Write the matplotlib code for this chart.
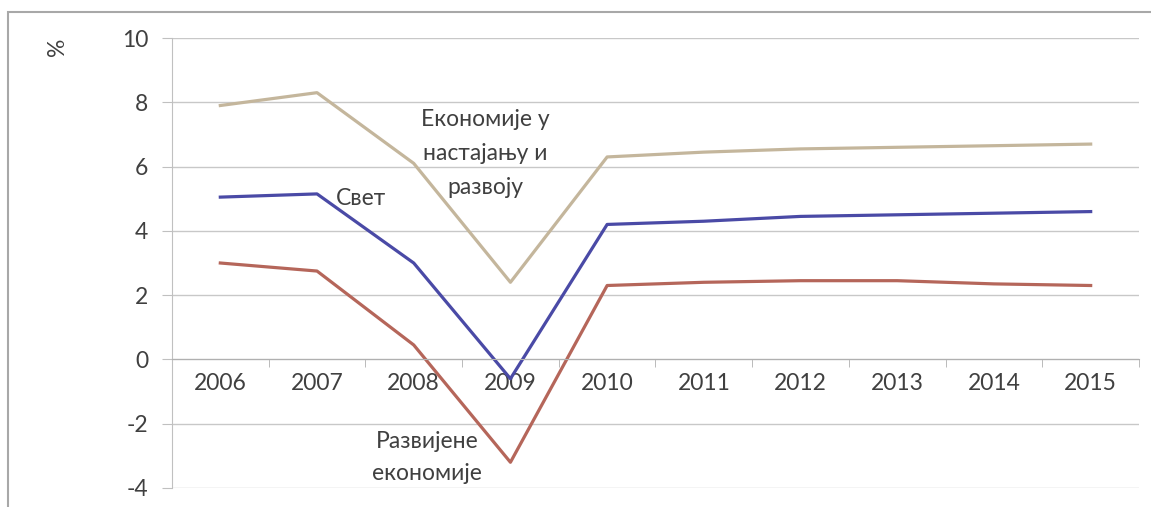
import matplotlib.pyplot as plt
from matplotlib.patches import Rectangle

plt.rcParams['font.family'] = ['Lato', 'DejaVu Sans']
plt.rcParams['axes.unicode_minus'] = False

years = ['2006', '2007', '2008', '2009', '2010', '2011', '2012', '2013', '2014', '2015']
emerging = [7.9, 8.3, 6.1, 2.4, 6.3, 6.45, 6.55, 6.6, 6.65, 6.7]
world = [5.05, 5.15, 3.0, -0.6, 4.2, 4.3, 4.45, 4.5, 4.55, 4.6]
advanced = [3.0, 2.75, 0.45, -3.2, 2.3, 2.4, 2.45, 2.45, 2.35, 2.3]

fs = 16.5
txt = '#404040'

fig = plt.figure(figsize=(11.51, 5.07), dpi=100)
fig.patches.append(Rectangle((0.007, -0.05), 1.1, 1.027, transform=fig.transFigure,
                             fill=False, edgecolor='#a8a8a8', linewidth=1.5))

ax = fig.add_axes([0.1494, 0.0375, 0.8402, 0.8875])
x = list(range(len(years)))

ax.plot(x, emerging, color='#c4b69c', lw=2.3)
ax.plot(x, world, color='#4a4aa6', lw=2.3)
ax.plot(x, advanced, color='#b5665a', lw=2.3)

ax.set_xlim(-0.5, 9.5)
ax.set_ylim(-4, 10)
ax.set_yticks(range(-4, 11, 2))
ax.yaxis.grid(True, color='#c8c8c8', lw=1)
ax.set_axisbelow(True)

for s in ['top', 'right']:
    ax.spines[s].set_visible(False)
ax.spines['left'].set_color('#c0c0c0')
ax.spines['bottom'].set_position(('data', 0))
ax.spines['bottom'].set_color('#b0b0b0')

ax.set_xticks(x)
ax.set_xticklabels(years)
ax.set_xticks([i - 0.5 for i in range(len(years) + 1)], minor=True)
ax.tick_params(axis='x', which='major', length=0, pad=10, labelsize=fs, labelcolor=txt)
ax.tick_params(axis='x', which='minor', length=6, color='#b0b0b0', direction='out')
ax.tick_params(axis='y', length=7, color='#c0c0c0', pad=10, labelsize=fs, labelcolor=txt)

ax.set_ylabel('%', rotation=90, fontsize=fs, color=txt)
ax.yaxis.set_label_coords(-0.1075, 0.98)

ax.text(2.74, 6.4, 'Економије у\nнастајању и\nразвоју', ha='center', va='center',
        fontsize=fs, color=txt, linespacing=1.75)
ax.text(1.19, 5.0, 'Свет', ha='left', va='center', fontsize=fs, color=txt)
ax.text(2.14, -3.05, 'Развијене\nекономије', ha='center', va='center',
        fontsize=fs, color=txt, linespacing=1.7)

fig.savefig('out.png', dpi=100)
